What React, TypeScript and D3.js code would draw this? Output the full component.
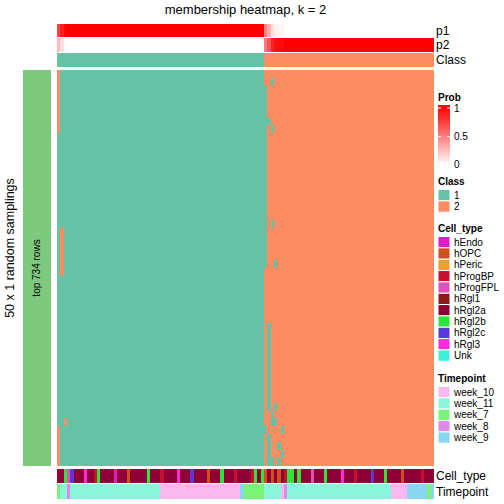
import React from "react";
import * as d3 from "d3";

// ---------- data ----------
const NCOL = 113;
const NROW = 50;
// sample class runs [class, count]
const classRuns: [number, number][] = [[1, 62], [2, 51]];
// heatmap cells differing from the column's class: [column, rows]
const flips: [number, number[]][] = [
  [0, [0, 1, 2, 3, 4, 5, 6, 7, 45, 46, 47, 48, 49]],
  [1, [20, 21, 22, 23, 24, 25]],
  [2, [44]],
  [62, [2, 3, 4, 5, 6, 7, 8, 9, 10, 11, 12, 13, 14, 15, 16, 17, 18, 19, 20, 21, 22, 23, 24, 45]],
  [63, [6, 32, 33, 34, 35, 36, 37, 38, 39, 40, 41, 42, 46, 47, 48, 49]],
  [64, [1, 7, 19, 43, 44, 49]],
  [65, [24, 42, 44]],
  [66, [47, 49]],
  [67, [45, 48]],
];
// membership probability p1 for columns that are not fully certain
const p1Special: [number, number][] = [
  [0, 0.74], [1, 0.88], [2, 0.98],
  [62, 0.48], [63, 0.32], [64, 0.12], [65, 0.06], [66, 0.04], [67, 0.04],
];
const cellTypeNames = ["hEndo", "hOPC", "hPeric", "hProgBP", "hProgFPL", "hRgl1", "hRgl2a", "hRgl2b", "hRgl2c", "hRgl3", "Unk"];
const cellTypeColors = ["#e01bc8", "#d04f1c", "#e8a133", "#c8102e", "#e04fbb", "#8c1c1c", "#8e0036", "#2ee33b", "#5a3ad6", "#ff2ae0", "#3cf0dc"];
const timeNames = ["week_10", "week_11", "week_7", "week_8", "week_9"];
const timeColors = ["#f9b9ee", "#8af5d8", "#78f578", "#dc8ce8", "#88d6f0"];
// runs [name, count]
const timeRuns: [string, number][] = [
  ["week_7", 1], ["week_11", 2], ["week_8", 1], ["week_11", 27], ["week_10", 24], ["week_9", 1],
  ["week_7", 6], ["week_11", 5], ["week_10", 1], ["week_8", 1], ["week_11", 31], ["week_10", 5],
  ["week_9", 6], ["week_7", 1], ["week_9", 1],
];
const cellRuns: [string, number][] = [
  ["hRgl2a", 2], ["hRgl2b", 1], ["hProgFPL", 1], ["hRgl2c", 1], ["hRgl2a", 3], ["hRgl3", 1], ["hRgl2a", 2],
  ["hProgBP", 1], ["hRgl2b", 1], ["hRgl2a", 4], ["hEndo", 1], ["hRgl2a", 3], ["hOPC", 1], ["hRgl2a", 5],
  ["hRgl2b", 1], ["hRgl2a", 3], ["hProgBP", 1], ["hRgl2a", 4], ["hRgl3", 1], ["hRgl2a", 3], ["hRgl2c", 1],
  ["hRgl2a", 4], ["hOPC", 1], ["hRgl2a", 3], ["hRgl2b", 1], ["hRgl2a", 3], ["hProgBP", 1],
  ["hRgl2a", 4], ["hProgBP", 1], ["hRgl2b", 1], ["hRgl2a", 1], ["hRgl2b", 1], ["hOPC", 1], ["hRgl2a", 1],
  ["hOPC", 1], ["hRgl2a", 1], ["hOPC", 1], ["hRgl2a", 1], ["hProgBP", 1], ["hRgl2b", 2], ["hRgl2a", 1],
  ["hRgl2b", 1],
  ["hRgl2a", 3], ["hProgFPL", 1], ["hRgl2a", 3], ["hRgl2b", 1], ["hRgl2a", 4], ["hRgl3", 1], ["hRgl2a", 3],
  ["hProgBP", 1], ["hRgl2a", 4], ["hRgl2c", 1], ["hRgl2a", 3], ["hRgl2b", 1], ["hRgl2a", 4], ["hOPC", 1],
  ["hRgl2a", 5], ["hProgBP", 1], ["hRgl2a", 3],
];

function expand<T>(runs: [T, number][]): T[] {
  const out: T[] = [];
  runs.forEach(([v, n]) => { for (let i = 0; i < n; i++) out.push(v); });
  return out;
}

export default function App() {
  const W = 504, H = 504;
  const hx0 = 57, hx1 = 434, hy0 = 70, hy1 = 466;
  const cols = d3.range(NCOL);
  const rows = d3.range(NROW);
  const x = d3.scaleBand<number>().domain(cols).range([hx0, hx1]).padding(0);
  const y = d3.scaleBand<number>().domain(rows).range([hy0, hy1]).padding(0);
  const classColor = d3.scaleOrdinal<number, string>().domain([1, 2]).range(["#66c2a5", "#fc8d62"]);
  const probColor = d3.scaleLinear<string>().domain([0, 1]).range(["#ffffff", "#ff0000"]).interpolate(d3.interpolateRgb).clamp(true);
  const ctColor = d3.scaleOrdinal<string, string>().domain(cellTypeNames).range(cellTypeColors);
  const tpColor = d3.scaleOrdinal<string, string>().domain(timeNames).range(timeColors);

  const sampleClass = expand(classRuns);
  const flipSet = new Set<string>();
  flips.forEach(([c, rs]) => rs.forEach((r) => flipSet.add(c + "_" + r)));
  const p1Map = new Map(p1Special);
  const p1 = sampleClass.map((c, i) => (p1Map.has(i) ? (p1Map.get(i) as number) : c === 1 ? 1 : 0));
  const timeArr = expand(timeRuns);
  const cellArr = expand(cellRuns);

  const font = "'Liberation Sans', Arial, Helvetica, sans-serif";
  const bw = x.bandwidth();

  const annRows = [
    { key: "p1", y: 24, h: 13.3, color: (i: number) => probColor(p1[i]) },
    { key: "p2", y: 38.3, h: 13.7, color: (i: number) => probColor(1 - p1[i]) },
    { key: "Class", y: 53, h: 14, color: (i: number) => classColor(sampleClass[i]) },
  ];

  const legendX = 438;
  const step = 11.34;
  const boxW = 12;
  const gradY0 = 105, gradY1 = 162;
  const probScale = d3.scaleLinear().domain([0, 1]).range([165.4, 108]);

  const discreteLegend = (title: string, names: (string | number)[], color: (n: any) => string, titleY: number) => (
    <g>
      <text x={legendX} y={titleY} fontSize={10} fontWeight="bold">{title}</text>
      {names.map((n, i) => {
        const by = titleY + 5 + i * step;
        return (
          <g key={String(n)}>
            <rect x={legendX} y={by} width={boxW} height={step} fill={color(n)} stroke="#ffffff" strokeWidth={1} />
            <text x={legendX + 16} y={by + step / 2 + 3.6} fontSize={10}>{n}</text>
          </g>
        );
      })}
    </g>
  );

  return (
    <svg width={W} height={H} style={{ position: "absolute", left: 0, top: 0 }} fontFamily={font}>
      <rect x={0} y={0} width={W} height={H} fill="#ffffff" />
      <text x={(hx0 + hx1) / 2} y={14} fontSize={13} textAnchor="middle">membership heatmap, k = 2</text>

      <g shapeRendering="crispEdges">
        {annRows.map((a) => (
          <g key={a.key}>
            {cols.map((i) => (
              <rect key={i} x={x(i)} y={a.y} width={bw} height={a.h} fill={a.color(i)} />
            ))}
          </g>
        ))}
        {rows.map((r) =>
          cols.map((c) => {
            const cl = flipSet.has(c + "_" + r) ? 3 - sampleClass[c] : sampleClass[c];
            return <rect key={c + "_" + r} x={x(c)} y={y(r)} width={bw} height={y.bandwidth()} fill={classColor(cl)} />;
          })
        )}
        {cols.map((i) => (
          <rect key={"ct" + i} x={x(i)} y={469} width={bw} height={14} fill={ctColor(cellArr[i])} />
        ))}
        {cols.map((i) => (
          <rect key={"tp" + i} x={x(i)} y={484} width={bw} height={15} fill={tpColor(timeArr[i])} />
        ))}
        <rect x={23} y={hy0} width={28} height={hy1 - hy0} fill="#7fc97f" />
      </g>
      {annRows.map((a) => (
        <text key={a.key} x={436} y={a.y + a.h / 2 + 4} fontSize={12}>{a.key}</text>
      ))}

      <text transform={`translate(${40},${(hy0 + hy1) / 2}) rotate(-90)`} fontSize={10} textAnchor="middle">top 734 rows</text>
      <text transform={`translate(${14},${248}) rotate(-90)`} fontSize={12.5} textAnchor="middle">50 x 1 random samplings</text>

      <text x={436} y={480} fontSize={12}>Cell_type</text>
      <text x={436} y={496} fontSize={12}>Timepoint</text>

      {/* legends */}
      <defs>
        <linearGradient id="probGrad" gradientUnits="userSpaceOnUse" x1="0" y1={gradY1} x2="0" y2={gradY0}>
          {[0, 0.25, 0.5, 0.75, 1].map((t) => (
            <stop key={t} offset={t} stopColor={probColor(probScale.invert(gradY1 + t * (gradY0 - gradY1)))} />
          ))}
        </linearGradient>
      </defs>
      <text x={legendX} y={101} fontSize={10} fontWeight="bold">Prob</text>
      <rect x={legendX} y={gradY0} width={boxW} height={gradY1 - gradY0} fill="url(#probGrad)" />
      {[0, 0.5, 1].map((t) => (
        <g key={t}>
          {t > 0 && <line x1={legendX} x2={legendX + 3} y1={probScale(t)} y2={probScale(t)} stroke="#fff" />}
          {t > 0 && <line x1={legendX + boxW - 3} x2={legendX + boxW} y1={probScale(t)} y2={probScale(t)} stroke="#fff" />}
          <text x={legendX + 16} y={(t === 0 ? 164 : probScale(t)) + 3.6} fontSize={10}>{t}</text>
        </g>
      ))}

      {discreteLegend("Class", [1, 2], (n) => classColor(n), 184.5)}
      {discreteLegend("Cell_type", cellTypeNames, (n) => ctColor(n), 231.5)}
      {discreteLegend("Timepoint", timeNames, (n) => tpColor(n), 381.5)}
    </svg>
  );
}
